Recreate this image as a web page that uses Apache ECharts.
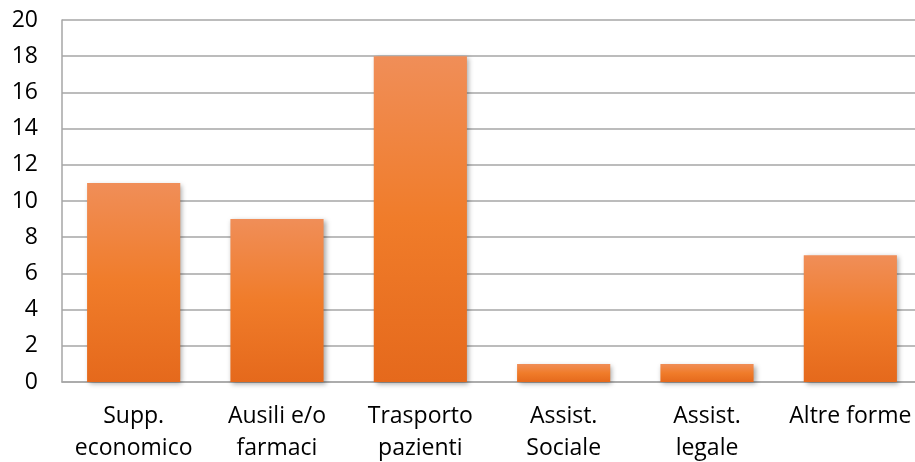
<!DOCTYPE html>
<html><head><meta charset="utf-8">
<script src="https://cdn.jsdelivr.net/npm/echarts@6/dist/echarts.min.js"></script>
<style>html,body{margin:0;padding:0;background:#fff}#c{width:915px;height:462px}</style>
</head><body><div id="c"></div>
<script>
const categories = ["Supp.\neconomico", "Ausili e/o\nfarmaci", "Trasporto\npazienti", "Assist.\nSociale", "Assist.\nlegale", "Altre forme"];
const values = [11, 9, 18, 1, 1, 7];
const yTicks = [0, 2, 4, 6, 8, 10, 12, 14, 16, 18, 20];

const chart = echarts.init(document.getElementById('c'));
chart.setOption({
  animation: false,
  grid: { left: 62, right: -7, top: 20, bottom: 80, containLabel: false, outerBoundsMode: 'none' },
  xAxis: {
    type: 'category', data: categories,
    axisLine: { show: true, lineStyle: { color: '#a6a6a6', width: 1.5 } },
    axisTick: { show: false },
    axisLabel: { color: '#000', fontFamily: 'Open Sans', fontSize: 23, lineHeight: 32, margin: 18, interval: 0 }
  },
  yAxis: {
    type: 'value', min: yTicks[0], max: yTicks[yTicks.length - 1], interval: 2,
    axisLine: { show: true, lineStyle: { color: '#a6a6a6', width: 1.5 } },
    axisTick: { show: false },
    splitLine: { lineStyle: { color: '#a6a6a6', width: 1.5 } },
    axisLabel: { color: '#000', fontFamily: 'Open Sans', fontSize: 23, margin: 24 }
  },
  series: [{
    type: 'bar', data: values, barWidth: '65%',
    itemStyle: {
      color: new echarts.graphic.LinearGradient(0, 0, 0, 1, [
        { offset: 0, color: '#f08e58' },
        { offset: 0.5, color: '#f07c2a' },
        { offset: 1, color: '#e5691c' }
      ]),
      shadowColor: 'rgba(0,0,0,0.35)', shadowBlur: 5, shadowOffsetX: 2, shadowOffsetY: 2
    }
  }]
});
</script></body></html>
